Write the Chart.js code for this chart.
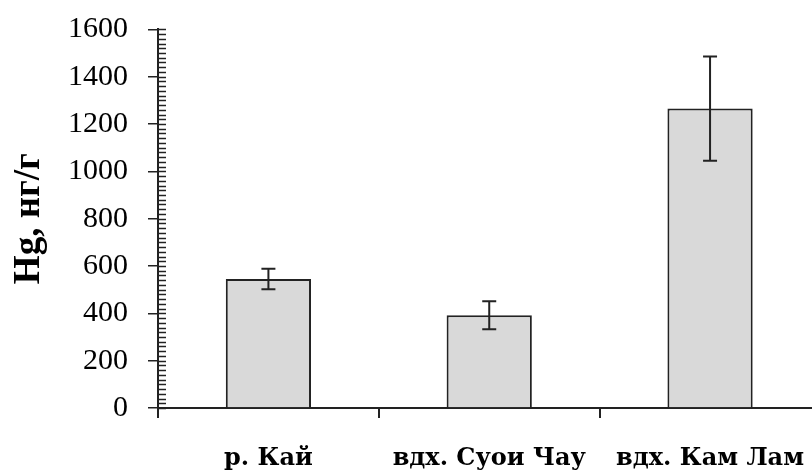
<!DOCTYPE html>
<html>
<head>
<meta charset="utf-8">
<script src="https://cdn.jsdelivr.net/npm/chart.js@4/dist/chart.umd.min.js"></script>
<style>
  html, body { margin: 0; padding: 0; background: #fff; overflow: hidden; }
  #wrap { width: 830px; height: 473px; }
</style>
</head>
<body>
<div id="wrap"><canvas id="myChart" width="830" height="473"></canvas></div>
<script>
const categories = ["р. Кай", "вдх. Суои Чау", "вдх. Кам Лам"];
const hgValues = [545, 392, 1265];
const hgErrors = [43, 59, 220];
const yTicks = [0, 200, 400, 600, 800, 1000, 1200, 1400, 1600];

const lineColor = "#222";

// error bars + inner minor ticks on the y axis
const extras = {
  id: "extras",
  afterDatasetsDraw(chart) {
    const ctx = chart.ctx;
    const x = chart.scales.x, y = chart.scales.y;
    ctx.save();
    ctx.strokeStyle = lineColor;
    ctx.lineWidth = 2;
    hgValues.forEach((v, i) => {
      const cx = x.getPixelForValue(i);
      const top = y.getPixelForValue(v + hgErrors[i]);
      const bot = y.getPixelForValue(v - hgErrors[i]);
      ctx.beginPath();
      ctx.moveTo(cx, top); ctx.lineTo(cx, bot);
      ctx.moveTo(cx - 7, top); ctx.lineTo(cx + 7, top);
      ctx.moveTo(cx - 7, bot); ctx.lineTo(cx + 7, bot);
      ctx.stroke();
    });
    // minor ticks every 20 units, inside the plot
    const ax = chart.chartArea.left;
    ctx.lineWidth = 1.5;
    for (let t = 0; t <= 1600; t += 20) {
      const py = Math.round(y.getPixelForValue(t)) + 0.5;
      ctx.beginPath();
      ctx.moveTo(ax, py); ctx.lineTo(ax + 8, py);
      ctx.stroke();
    }
    ctx.restore();
  }
};

new Chart(document.getElementById("myChart").getContext("2d"), {
  type: "bar",
  data: {
    labels: categories,
    datasets: [{
      label: "Hg",
      data: hgValues,
      backgroundColor: "#d9d9d9",
      borderColor: lineColor,
      borderWidth: 2,
      categoryPercentage: 1,
      barPercentage: 0.386
    }]
  },
  options: {
    responsive: false,
    animation: false,
    layout: { padding: { top: 0, right: 0, left: 0, bottom: 0 } },
    plugins: { legend: { display: false }, tooltip: { enabled: false } },
    scales: {
      x: {
        offset: true,
        border: { display: true, color: lineColor, width: 2 },
        grid: { offset: true, drawOnChartArea: false, drawTicks: true, tickLength: 10, color: lineColor, lineWidth: 2 },
        ticks: {
          color: "#000",
          padding: 26,
          maxRotation: 0,
          font: { family: "'DejaVu Serif', 'Liberation Serif', serif", size: 24, weight: "bold" }
        },
        afterFit(scale) { scale.height = 65; }
      },
      y: {
        min: 0,
        max: 1600,
        afterBuildTicks(scale) { scale.ticks = yTicks.map(v => ({ value: v })); },
        border: { display: true, color: lineColor, width: 2 },
        grid: { drawOnChartArea: false, drawTicks: true, tickLength: 10, color: lineColor, lineWidth: 1.5 },
        ticks: {
          color: "#000",
          padding: 20,
          callback: v => String(v),
          font: { family: "'Liberation Serif', 'Times New Roman', serif", size: 30, lineHeight: 0.62 }
        },
        title: {
          display: true,
          text: "Hg, нг/г",
          color: "#000",
          padding: { top: 7, bottom: 0 },
          font: { family: "'Liberation Serif', 'Times New Roman', serif", size: 37, weight: "bold" }
        },
        afterFit(scale) { scale.width = 158; }
      }
    }
  },
  plugins: [extras]
});
</script>
</body>
</html>
